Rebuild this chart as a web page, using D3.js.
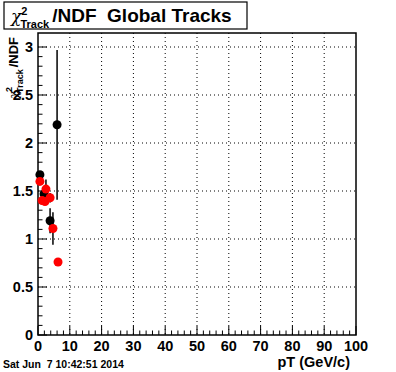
<!DOCTYPE html>
<html>
<head>
<meta charset="utf-8">
<script src="https://cdn.jsdelivr.net/npm/d3@7"></script>
<style>
  body { margin: 0; background: #fff; }
  svg text { font-family: "Liberation Sans", Arial, sans-serif; font-weight: bold; white-space: pre; }
</style>
</head>
<body>
<div id="chart"></div>
<script>
// chi2/NDF vs pT, two track samples (black, red)
const blackPt  = [0.6, 1.9, 3.8, 6.0];
const blackVal = [1.67, 1.47, 1.19, 2.19];
const blackErr = [0.02, 0.05, 0.13, 0.78];

const redPt  = [0.6, 1.3, 2.5, 2.2, 3.8, 4.7, 6.3];
const redVal = [1.60, 1.40, 1.52, 1.39, 1.43, 1.11, 0.76];
const redErr = [0.0, 0.04, 0.10, 0.03, 0.05, 0.17, 0.0];

const xTicks = [0, 10, 20, 30, 40, 50, 60, 70, 80, 90, 100];
const yTicks = [0, 0.5, 1, 1.5, 2, 2.5, 3];

const W = 396, H = 372;
const margin = { top: 33, right: 40, bottom: 37, left: 38 };
const width  = W - margin.left - margin.right;
const height = H - margin.top - margin.bottom;

const svg = d3.select('#chart').append('svg')
  .attr('width', W).attr('height', H);

const g = svg.append('g')
  .attr('transform', `translate(${margin.left},${margin.top})`);

const x = d3.scaleLinear().domain([0, 100]).range([0, width]);
const y = d3.scaleLinear().domain([0, 3.146]).range([height, 0]);

// dotted grid
g.selectAll('.gx').data(xTicks.slice(1, -1)).enter().append('line')
  .attr('x1', d => x(d)).attr('x2', d => x(d))
  .attr('y1', 0).attr('y2', height)
  .attr('stroke', '#000').attr('stroke-width', 1).attr('stroke-dasharray', '1,3');
g.selectAll('.gy').data(yTicks.slice(1)).enter().append('line')
  .attr('x1', 0).attr('x2', width)
  .attr('y1', d => y(d)).attr('y2', d => y(d))
  .attr('stroke', '#000').attr('stroke-width', 1).attr('stroke-dasharray', '1,3');

// ticks inside frame (major + minor)
const xMinor = d3.range(0, 101, 2);
const yMinor = d3.range(0, 31).map(i => i / 10);
g.selectAll('.tx').data(xMinor).enter().append('line')
  .attr('x1', d => x(d)).attr('x2', d => x(d))
  .attr('y1', height).attr('y2', d => height - (d % 10 === 0 ? 9 : 4.5))
  .attr('stroke', '#000');
g.selectAll('.ty').data(yMinor).enter().append('line')
  .attr('x1', 0).attr('x2', (d, i) => i % 5 === 0 ? 9 : 4.5)
  .attr('y1', d => y(d)).attr('y2', d => y(d))
  .attr('stroke', '#000');

// frame
g.append('rect')
  .attr('width', width).attr('height', height)
  .attr('fill', 'none').attr('stroke', '#000').attr('stroke-width', 1.5);

// tick labels
g.selectAll('.lx').data(xTicks).enter().append('text')
  .attr('x', d => x(d)).attr('y', height + 16)
  .attr('text-anchor', 'middle')
  .style('font-size', '14.5px')
  .text(d => d);
g.selectAll('.ly').data(yTicks).enter().append('text')
  .attr('x', -5).attr('y', d => y(d) + 5)
  .attr('text-anchor', 'end')
  .style('font-size', '14.5px')
  .text(d => d);

// axis titles
g.append('text')
  .attr('x', width - 6).attr('y', height + 32)
  .attr('text-anchor', 'end')
  .style('font-size', '14.5px')
  .text('pT (GeV/c)');

const yt = svg.append('text')
  .attr('transform', 'translate(18,37) rotate(-90)')
  .attr('text-anchor', 'end')
  .style('font-size', '13px');
yt.append('tspan').style('font-family', '"DejaVu Serif", serif').style('font-weight', 'normal').style('font-style', 'italic').text('χ');
yt.append('tspan').attr('dy', -6).attr('dx', -1).style('font-size', '9px').text('2');
yt.append('tspan').attr('dy', 11).attr('dx', -6).style('font-size', '9px').text('Track');
yt.append('tspan').attr('dy', -5).attr('dx', 2).text('/NDF');

// error bars + markers
function drawSeries(pts, vals, errs, color) {
  g.selectAll(null).data(pts).enter().append('line')
    .attr('x1', d => x(d)).attr('x2', d => x(d))
    .attr('y1', (d, i) => y(vals[i] - errs[i]))
    .attr('y2', (d, i) => y(vals[i] + errs[i]))
    .attr('stroke', '#000').attr('stroke-width', 1.5);
  g.selectAll(null).data(pts).enter().append('circle')
    .attr('cx', d => x(d)).attr('cy', (d, i) => y(vals[i]))
    .attr('r', 4.5).attr('fill', color);
}
drawSeries(blackPt, blackVal, blackErr, '#000');
drawSeries(redPt, redVal, redErr, '#f00');

// title box
svg.append('rect')
  .attr('x', 4).attr('y', 2).attr('width', 243).attr('height', 27)
  .attr('fill', '#fff').attr('stroke', '#000').attr('stroke-width', 1.2);
const tt = svg.append('text').attr('x', 11).attr('y', 22).style('font-size', '19px');
tt.append('tspan').style('font-family', '"DejaVu Serif", serif').style('font-weight', 'normal').style('font-style', 'italic').style('font-size', '17px').text('χ');
tt.append('tspan').attr('dy', -7).attr('dx', 0).style('font-size', '11px').text('2');
tt.append('tspan').attr('dy', 13).attr('dx', -7).style('font-size', '11px').text('Track');
tt.append('tspan').attr('dy', -6).attr('dx', 3).text('/NDF  Global Tracks');

// date stamp
svg.append('text')
  .attr('x', 3).attr('y', 368)
  .style('font-size', '10.5px')
  .text('Sat Jun  7 10:42:51 2014');
</script>
</body>
</html>
